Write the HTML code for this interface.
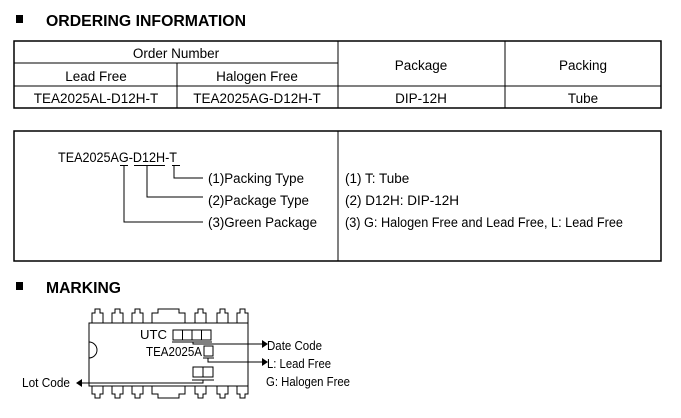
<!DOCTYPE html>
<html><head><meta charset="utf-8"><style>
html,body{margin:0;padding:0;background:#fff;}
svg{display:block;}
text{font-family:"Liberation Sans",Arial,sans-serif;fill:#000;}
</style></head><body>
<svg width="681" height="418" viewBox="0 0 681 418" xmlns="http://www.w3.org/2000/svg">
<rect x="16" y="15" width="7" height="8" fill="#000"/>
<text x="46" y="26" font-size="16" font-weight="bold" textLength="200" lengthAdjust="spacingAndGlyphs">ORDERING INFORMATION</text>
<g stroke="#000" fill="none">
<rect x="14" y="41" width="647" height="67" stroke-width="1.5"/>
<line x1="14" y1="63" x2="338" y2="63"/>
<line x1="14" y1="86" x2="661" y2="86"/>
<line x1="338" y1="41" x2="338" y2="108"/>
<line x1="505" y1="41" x2="505" y2="108"/>
<line x1="177" y1="63" x2="177" y2="108"/>
</g>
<g font-size="13.5" text-anchor="middle">
<text x="176" y="58">Order Number</text>
<text x="96" y="81">Lead Free</text>
<text x="257" y="81">Halogen Free</text>
<text x="421" y="70">Package</text>
<text x="583" y="70">Packing</text>
<text x="96" y="103">TEA2025AL-D12H-T</text>
<text x="257" y="103">TEA2025AG-D12H-T</text>
<text x="421" y="103">DIP-12H</text>
<text x="583" y="103">Tube</text>
</g>
<g stroke="#000" fill="none">
<rect x="14" y="131" width="647" height="130" stroke-width="1.5"/>
<line x1="338" y1="131" x2="338" y2="261"/>
<path d="M120 165.5H128M124 165.5V222H203"/>
<path d="M134 165.5H165M147 165.5V197H203"/>
<path d="M172 165.5H180M174 165.5V178H203"/>
</g>
<g font-size="13.5">
<text x="58" y="162" textLength="119" lengthAdjust="spacingAndGlyphs">TEA2025AG-D12H-T</text>
<text x="208" y="183" textLength="96" lengthAdjust="spacingAndGlyphs">(1)Packing Type</text>
<text x="208" y="205" textLength="101" lengthAdjust="spacingAndGlyphs">(2)Package Type</text>
<text x="208" y="227" textLength="109" lengthAdjust="spacingAndGlyphs">(3)Green Package</text>
<text x="345" y="183">(1) T: Tube</text>
<text x="345" y="205">(2) D12H: DIP-12H</text>
<text x="345" y="227" textLength="278" lengthAdjust="spacingAndGlyphs">(3) G: Halogen Free and Lead Free, L: Lead Free</text>
</g>
<rect x="16" y="282" width="7" height="8" fill="#000"/>
<text x="46" y="293" font-size="16" font-weight="bold" textLength="75" lengthAdjust="spacingAndGlyphs">MARKING</text>
<g stroke="#000" fill="none" stroke-width="1">
<rect x="89" y="323" width="159" height="63"/>
<path d="M89 342 A8 8 0 0 1 89 358"/>
<path d="M92 323V313H95V309H100V313H103V323"/>
<path d="M112 323V313H115V309H120V313H123V323"/>
<path d="M132 323V313H135V309H140V313H143V323"/>
<path d="M152 323V313H158V309H179V313H185V323"/>
<path d="M195 323V313H198V309H203V313H206V323"/>
<path d="M217 323V313H220V309H225V313H228V323"/>
<path d="M237 323V313H240V309H245V313H248V323"/>
<path d="M92 386V394H95V398H100V394H103V386"/>
<path d="M112 386V394H115V398H120V394H123V386"/>
<path d="M132 386V394H135V398H140V394H143V386"/>
<path d="M152 386V394H158V398H179V394H185V386"/>
<path d="M195 386V394H198V398H203V394H206V386"/>
<path d="M217 386V394H220V398H225V394H228V386"/>
<path d="M237 386V394H240V398H245V394H248V386"/>
<rect x="173" y="330" width="9.5" height="10"/>
<rect x="182.5" y="330" width="9.5" height="10"/>
<rect x="192" y="330" width="9.5" height="10"/>
<rect x="201.5" y="330" width="9.5" height="10"/>
<line x1="172" y1="342" x2="212" y2="342"/>
<path d="M193 342V344H262"/>
<rect x="204" y="346" width="9" height="10"/>
<line x1="203" y1="358" x2="214" y2="358"/>
<path d="M208 358V362H262"/>
<rect x="193" y="367" width="10" height="10"/>
<rect x="203" y="367" width="10" height="10"/>
<line x1="192" y1="380" x2="214" y2="380"/>
<path d="M203 380V383H82"/>
</g>
<g fill="#000">
<polygon points="262,340 268,344 262,348"/>
<polygon points="262,358 268,362 262,366"/>
<polygon points="82,379 76,383 82,387"/>
</g>
<g font-size="13">
<text x="140" y="339" textLength="27" lengthAdjust="spacingAndGlyphs">UTC</text>
<text x="146" y="356" textLength="56" lengthAdjust="spacingAndGlyphs">TEA2025A</text>
<text x="267" y="350" textLength="55" lengthAdjust="spacingAndGlyphs">Date Code</text>
<text x="267" y="368" textLength="64" lengthAdjust="spacingAndGlyphs">L: Lead Free</text>
<text x="266" y="386" textLength="84" lengthAdjust="spacingAndGlyphs">G: Halogen Free</text>
<text x="22" y="387" textLength="48" lengthAdjust="spacingAndGlyphs">Lot Code</text>
</g>
</svg>
</body></html>
